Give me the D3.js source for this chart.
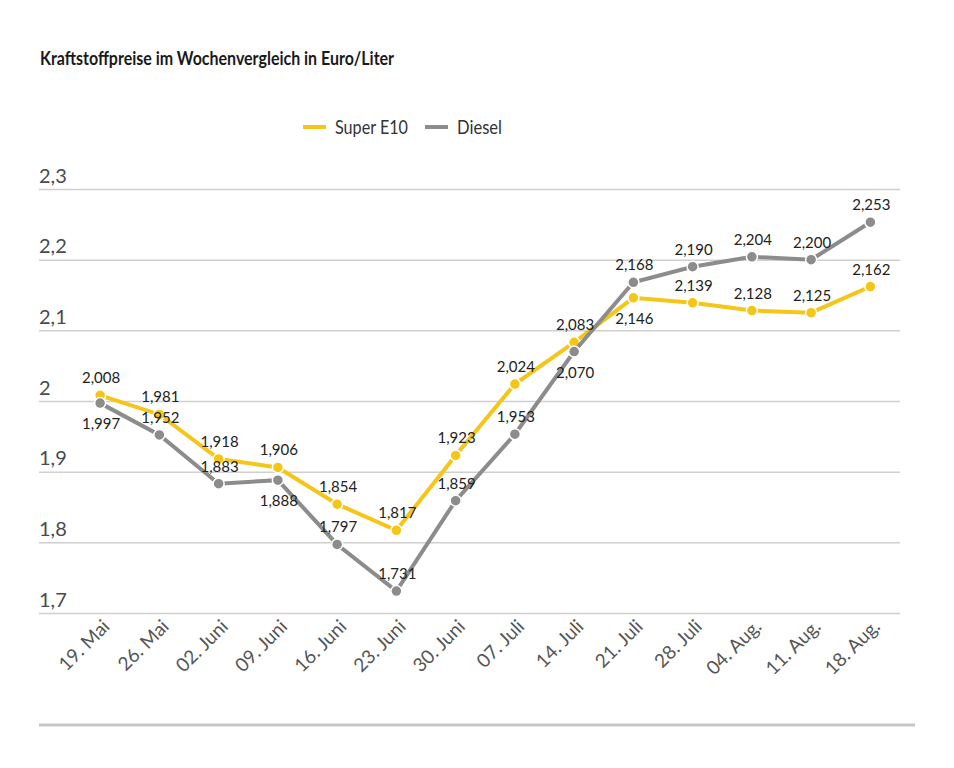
<!DOCTYPE html>
<html>
<head>
<meta charset="utf-8">
<script src="https://cdn.jsdelivr.net/npm/d3@7"></script>
<style>
  body { margin: 0; background: #fff; }
  svg { display: block; font-family: Lato, "Noto Sans", sans-serif; }
</style>
</head>
<body>
<div id="chart"></div>
<script>
// Chart data
const weeks = ['19. Mai', '26. Mai', '02. Juni', '09. Juni', '16. Juni', '23. Juni', '30. Juni',
  '07. Juli', '14. Juli', '21. Juli', '28. Juli', '04. Aug.', '11. Aug.', '18. Aug.'];
const superE10 = [2.008, 1.981, 1.918, 1.906, 1.854, 1.817, 1.923, 2.024, 2.083, 2.146, 2.139, 2.128, 2.125, 2.162];
const diesel = [1.997, 1.952, 1.883, 1.888, 1.797, 1.731, 1.859, 1.953, 2.070, 2.168, 2.190, 2.204, 2.200, 2.253];
const yTicks = [1.7, 1.8, 1.9, 2.0, 2.1, 2.2, 2.3];

// Which value labels sit under their point
const superBelow = [9];
const dieselBelow = [0, 3, 8];

const width = 954, height = 768;
const colors = { super: '#f5c518', diesel: '#8c8c8c' };

const svg = d3.select('#chart')
  .append('svg')
  .attr('width', width)
  .attr('height', height);

// Scales
const x = d3.scaleBand().domain(weeks).range([70.5, 900]);
const cx = d => x(d) + x.bandwidth() / 2;
const y = d3.scaleLinear().domain([1.7, 2.3]).range([613, 189]);
const fmt = v => d3.format('.3f')(v).replace('.', ',');
const tickFmt = v => String(+v.toFixed(1)).replace('.', ',');

// Title (the original face is condensed, so squeeze it a bit)
svg.append('text')
  .attr('x', 40).attr('y', 65)
  .attr('textLength', 354).attr('lengthAdjust', 'spacingAndGlyphs')
  .style('font-size', '19px').style('font-weight', 700).style('fill', '#1a1a1a')
  .text('Kraftstoffpreise im Wochenvergleich in Euro/Liter');

// Legend
const legend = svg.append('g').attr('transform', 'translate(303, 127)');
[['Super E10', colors.super, 0, 73], ['Diesel', colors.diesel, 122, 45]].forEach(([name, col, off, len]) => {
  legend.append('line')
    .attr('x1', off).attr('x2', off + 23)
    .attr('stroke', col).attr('stroke-width', 4);
  legend.append('text')
    .attr('x', off + 32).attr('y', 7)
    .attr('textLength', len).attr('lengthAdjust', 'spacingAndGlyphs')
    .style('font-size', '20px').style('fill', '#333')
    .text(name);
});

// Y axis: gridlines with labels above them
const yAxis = svg.append('g')
  .attr('transform', 'translate(39, 0)')
  .call(d3.axisRight(y).tickValues(yTicks).tickSize(861).tickFormat(tickFmt));
yAxis.select('.domain').remove();
yAxis.selectAll('.tick line').attr('stroke', '#cfcfcf').attr('stroke-width', 1.5);
yAxis.selectAll('.tick text')
  .attr('x', 0).attr('dy', -7).attr('text-anchor', 'start')
  .style('font-size', '20px').style('fill', '#4a4a4a').style('font-family', 'Lato, sans-serif');

// X axis: rotated labels
const xAxis = svg.append('g')
  .attr('transform', 'translate(0, 613)')
  .call(d3.axisBottom(x).tickSize(0).tickPadding(0));
xAxis.select('.domain').remove();
xAxis.selectAll('.tick text')
  .attr('text-anchor', 'end')
  .attr('transform', 'translate(6, 10) rotate(-45)')
  .attr('dy', '0.35em')
  .style('font-size', '19px').style('fill', '#555').style('font-family', 'Lato, sans-serif');

// Bottom rule
svg.append('line')
  .attr('x1', 39).attr('x2', 915).attr('y1', 725).attr('y2', 725)
  .attr('stroke', '#c8c8c8').attr('stroke-width', 3);

// Series
const line = d3.line().x((d, i) => cx(weeks[i])).y(d => y(d));

function drawSeries(values, color) {
  svg.append('path')
    .datum(values)
    .attr('fill', 'none')
    .attr('stroke', color)
    .attr('stroke-width', 4)
    .attr('d', line);

  svg.append('g').selectAll('circle')
    .data(values)
    .join('circle')
    .attr('cx', (d, i) => cx(weeks[i]))
    .attr('cy', d => y(d))
    .attr('r', 5.5)
    .attr('fill', color)
    .attr('stroke', '#fff')
    .attr('stroke-width', 1.5);
}

function drawLabels(values, below) {
  svg.append('g').selectAll('text')
    .data(values)
    .join('text')
    .attr('x', (d, i) => cx(weeks[i]) + 1)
    .attr('y', (d, i) => y(d) + (below.includes(i) ? 26 : -12))
    .attr('text-anchor', 'middle')
    .style('font-size', '15px')
    .style('fill', '#222')
    .text(fmt);
}

drawSeries(superE10, colors.super);
drawSeries(diesel, colors.diesel);
drawLabels(superE10, superBelow);
drawLabels(diesel, dieselBelow);
</script>
</body>
</html>
